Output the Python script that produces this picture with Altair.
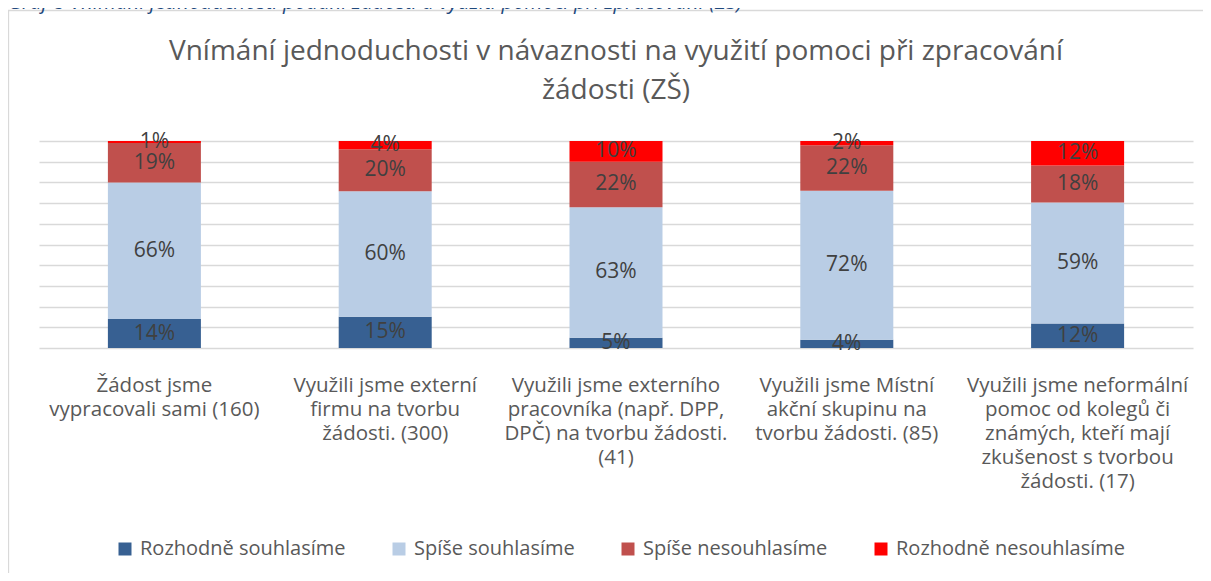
import altair as alt
import pandas as pd

categories = [
    "Žádost jsme|vypracovali sami (160)",
    "Využili jsme externí|firmu na tvorbu|žádosti. (300)",
    "Využili jsme externího|pracovníka (např. DPP,|DPČ) na tvorbu žádosti.|(41)",
    "Využili jsme Místní|akční skupinu na|tvorbu žádosti. (85)",
    "Využili jsme neformální|pomoc od kolegů či|známých, kteří mají|zkušenost s tvorbou|žádosti. (17)",
]
series = ["Rozhodně souhlasíme", "Spíše souhlasíme", "Spíše nesouhlasíme", "Rozhodně nesouhlasíme"]
colors = ["#376092", "#B9CDE5", "#C0504D", "#FF0000"]

rozhodne_souhlasime = [14, 15, 5, 4, 12]
spise_souhlasime = [66, 60, 63, 72, 59]
spise_nesouhlasime = [19, 20, 22, 22, 18]
rozhodne_nesouhlasime = [1, 4, 10, 2, 12]

title_lines = ["Vnímání jednoduchosti v návaznosti na  využití pomoci při zpracování", "žádosti (ZŠ)"]
caption = "Graf 8 Vnímání jednoduchosti podání žádosti a využití pomoci při zpracování (ZŠ)"

rows = []
for s_i, (s, vals) in enumerate(zip(series, [rozhodne_souhlasime, spise_souhlasime,
                                              spise_nesouhlasime, rozhodne_nesouhlasime])):
    for c, v in zip(categories, vals):
        rows.append({"category": c, "series": s, "value": v, "order": s_i})
df = pd.DataFrame(rows)

FONT = "Open Sans"
W, H = 1154, 207

base = alt.Chart(df).transform_joinaggregate(
    total="sum(value)", groupby=["category"]
).transform_window(
    cum="sum(value)", sort=[alt.SortField("order")], groupby=["category"],
    frame=[None, 0]
).transform_calculate(
    y1="datum.cum / datum.total",
    y0="(datum.cum - datum.value) / datum.total",
    mid="(datum.cum - datum.value / 2) / datum.total",
    label="datum.value + '%'",
)

xaxis = alt.Axis(labelExpr="split(datum.label, '|')", labelAngle=0,
                 labelFontSize=20.5, labelColor="#595959", labelFont=FONT,
                 labelLineHeight=24, labelLimit=400, labelPadding=27,
                 ticks=False, domain=False, grid=False)
xscale = alt.Scale(paddingInner=0.597, paddingOuter=0.2985)
yaxis = alt.Axis(values=[0, 0.1, 0.2, 0.3, 0.4, 0.5, 0.6, 0.7, 0.8, 0.9, 1.0],
                 labels=False, ticks=False, domain=False, grid=True,
                 gridColor="#D9D9D9", gridWidth=1.6)
yscale = alt.Scale(domain=[0, 1], nice=False)

bars = base.mark_bar().encode(
    x=alt.X("category:N", sort=categories, title=None, scale=xscale, axis=xaxis),
    y=alt.Y("y0:Q", scale=yscale, title=None, axis=yaxis),
    y2="y1:Q",
    color=alt.Color("series:N", scale=alt.Scale(domain=series, range=colors),
                    sort=series, title=None,
                    legend=alt.Legend(orient="none", direction="horizontal",
                                      legendX=76, legendY=398,
                                      symbolType="square", symbolSize=169,
                                      symbolStrokeWidth=0, labelFontSize=20,
                                      labelColor="#595959", labelFont=FONT,
                                      labelOffset=5, columnPadding=43,
                                      labelLimit=400)),
    order=alt.Order("order:Q"),
)

labels = base.mark_text(fontSize=21, color="#404040", font=FONT, baseline="middle").encode(
    x=alt.X("category:N", sort=categories, title=None, scale=xscale, axis=xaxis),
    y=alt.Y("mid:Q", scale=yscale, title=None, axis=yaxis),
    text="label:N",
)

deco_df = pd.DataFrame({"caption": [caption]})
frame = alt.Chart(deco_df).mark_rect(fillOpacity=0, stroke="#D9D9D9", strokeWidth=1.3).encode(
    x=alt.value(-30.5), x2=alt.value(W + 100), y=alt.value(-130.5), y2=alt.value(H + 400)
)
cap = alt.Chart(deco_df).mark_text(fontSize=20.5, fontStyle="italic", color="#1F497D",
                                   font=FONT, align="left", baseline="alphabetic").encode(
    x=alt.value(-31), y=alt.value(-132), text="caption:N"
)

title_df = pd.DataFrame({"t": title_lines, "line": [0, 1]})
title1 = alt.Chart(title_df).transform_filter("datum.line == 0").mark_text(
    fontSize=28, color="#595959", font=FONT, align="center", baseline="alphabetic"
).encode(x=alt.value(W / 2), y=alt.value(-81), text="t:N")
title2 = alt.Chart(title_df).transform_filter("datum.line == 1").mark_text(
    fontSize=28, color="#595959", font=FONT, align="center", baseline="alphabetic"
).encode(x=alt.value(W / 2), y=alt.value(-42), text="t:N")

chart = alt.layer(frame, bars, labels, cap, title1, title2).properties(
    width=W, height=H,
    padding={"left": 31, "top": 133, "right": 10, "bottom": 225},
    autosize=alt.AutoSizeParams(type="none"),
    background="white",
).configure_view(stroke=None)

chart.save("out.html", embed_options={"renderer": "svg", "actions": False})
